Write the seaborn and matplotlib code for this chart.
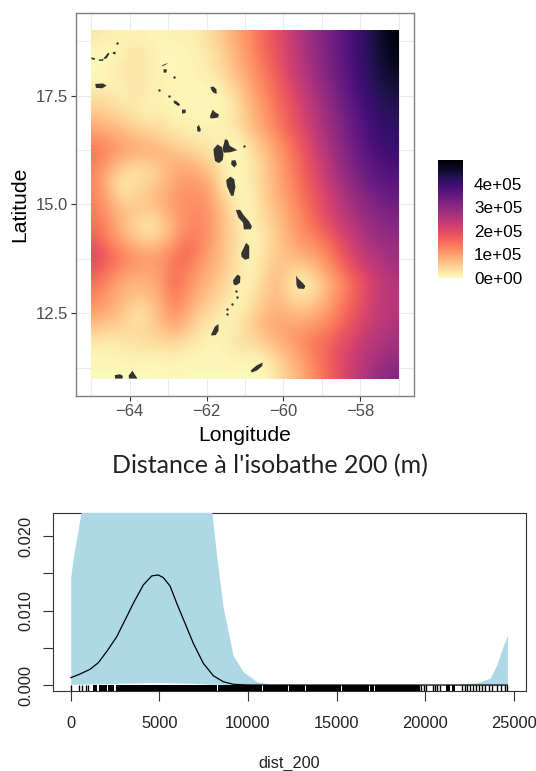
# -*- coding: utf-8 -*-
"""
Carte de distance à l'isobathe 200 et effet lissé de dist_200.
"""
import numpy as np
import matplotlib.pyplot as plt
import seaborn as sns

# --- carte : distance (km) par maille de 1/3 de degré, du nord au sud ---
lon_min, lon_max = -65, -57
lat_min, lat_max = 11, 19
d_18_83 = [25, 15, 15, 15, 10, 10, 15, 15, 20, 40, 65, 95, 125, 160, 190, 225, 260, 295, 325, 355, 390, 420, 455, 490]
d_18_50 = [5, 5, 15, 25, 20, 10, 5, 10, 15, 30, 55, 85, 120, 155, 185, 220, 255, 290, 325, 355, 390, 420, 450, 480]
d_18_17 = [5, 15, 25, 30, 20, 5, 5, 10, 15, 25, 50, 80, 110, 145, 180, 215, 250, 285, 320, 350, 385, 415, 445, 470]
d_17_83 = [10, 10, 20, 25, 20, 15, 10, 10, 10, 15, 35, 65, 100, 130, 165, 205, 240, 275, 310, 345, 380, 410, 435, 455]
d_17_50 = [30, 25, 15, 25, 15, 10, 10, 10, 10, 8, 15, 45, 85, 120, 155, 190, 225, 265, 300, 335, 370, 400, 425, 440]
d_17_17 = [50, 45, 30, 20, 15, 15, 8, 8, 10, 8, 10, 35, 75, 110, 145, 180, 215, 250, 290, 325, 360, 390, 415, 425]
d_16_83 = [80, 70, 55, 40, 30, 30, 15, 15, 10, 10, 15, 35, 70, 100, 135, 170, 205, 240, 280, 315, 350, 380, 405, 415]
d_16_50 = [115, 105, 90, 75, 65, 50, 35, 25, 20, 20, 15, 10, 45, 80, 115, 150, 190, 230, 270, 305, 345, 375, 395, 405]
d_16_17 = [145, 115, 95, 85, 80, 80, 70, 55, 40, 25, 5, 5, 25, 60, 95, 135, 175, 215, 255, 295, 330, 360, 385, 395]
d_15_83 = [125, 80, 50, 30, 40, 60, 85, 90, 75, 50, 15, 10, 20, 50, 90, 125, 165, 205, 245, 285, 320, 350, 370, 380]
d_15_50 = [120, 60, 20, 35, 45, 65, 95, 105, 100, 75, 10, 5, 20, 50, 85, 120, 155, 190, 230, 270, 305, 335, 355, 365]
d_15_17 = [125, 80, 35, 45, 65, 80, 105, 115, 115, 90, 35, 15, 15, 45, 80, 110, 145, 180, 215, 250, 285, 310, 330, 345]
d_14_83 = [135, 100, 70, 60, 50, 70, 100, 120, 125, 100, 55, 15, 10, 40, 70, 100, 135, 170, 205, 240, 270, 295, 315, 325]
d_14_50 = [150, 110, 70, 40, 20, 40, 85, 120, 130, 100, 60, 25, 10, 30, 60, 90, 125, 150, 185, 220, 250, 275, 295, 305]
d_14_17 = [170, 125, 95, 65, 50, 65, 105, 145, 130, 95, 60, 30, 5, 25, 55, 85, 110, 125, 155, 195, 230, 260, 280, 290]
d_13_83 = [200, 160, 130, 110, 100, 110, 135, 160, 120, 90, 55, 25, 10, 30, 55, 70, 85, 100, 130, 170, 210, 240, 260, 275]
d_13_50 = [175, 140, 115, 100, 95, 105, 150, 130, 100, 80, 50, 25, 10, 35, 70, 50, 45, 65, 105, 145, 185, 220, 245, 265]
d_13_17 = [145, 110, 85, 75, 80, 100, 155, 120, 90, 65, 40, 15, 15, 45, 75, 30, 5, 35, 75, 115, 160, 195, 230, 255]
d_12_83 = [120, 95, 75, 55, 65, 90, 135, 105, 70, 50, 25, 10, 25, 55, 70, 50, 35, 55, 90, 130, 165, 205, 235, 250]
d_12_50 = [95, 80, 60, 25, 40, 80, 115, 85, 50, 30, 15, 15, 40, 70, 85, 75, 70, 85, 110, 145, 180, 210, 235, 250]
d_12_17 = [60, 45, 45, 30, 45, 65, 85, 60, 30, 15, 10, 25, 50, 75, 95, 100, 105, 115, 135, 165, 195, 225, 245, 260]
d_11_83 = [20, 15, 25, 30, 35, 35, 40, 30, 15, 10, 15, 30, 35, 50, 75, 95, 120, 145, 160, 190, 215, 240, 255, 270]
d_11_50 = [10, 10, 15, 15, 10, 15, 15, 10, 10, 10, 10, 15, 10, 20, 45, 75, 105, 135, 165, 195, 225, 250, 270, 285]
d_11_17 = [5, 5, 5, 5, 5, 5, 8, 5, 5, 5, 5, 5, 5, 5, 30, 60, 90, 125, 160, 195, 230, 260, 285, 310]

# contours des îles (lon, lat)
iles = [
    ([-65.0, -64.9, -64.92, -65.0], [18.38, 18.36, 18.32, 18.34]),
    ([-64.81, -64.68, -64.7, -64.8], [18.33, 18.34, 18.3, 18.3]),
    ([-64.68, -64.56, -64.53, -64.6, -64.68], [18.36, 18.49, 18.46, 18.36, 18.34]),
    ([-64.44, -64.37, -64.37, -64.44], [18.5, 18.51, 18.45, 18.46]),
    ([-64.9, -64.7, -64.6, -64.72, -64.88], [17.77, 17.78, 17.73, 17.67, 17.68]),
    ([-63.15, -63.0, -62.97, -63.07, -63.16], [18.2, 18.26, 18.28, 18.21, 18.17]),
    ([-63.12, -63.03, -63.05, -63.12], [18.11, 18.1, 18.03, 18.03]),
    ([-62.86, -62.78, -62.69, -62.73, -62.85], [17.39, 17.37, 17.3, 17.26, 17.33]),
    ([-62.64, -62.54, -62.55, -62.64], [17.18, 17.18, 17.1, 17.09]),
    ([-61.9, -61.82, -61.74, -61.74, -61.82, -61.87], [17.7, 17.71, 17.64, 17.54, 17.57, 17.62]),
    ([-61.91, -61.84, -61.78, -61.68, -61.7, -61.82, -61.9], [17.03, 17.18, 17.12, 17.07, 17.0, 16.98, 16.98]),
    ([-62.25, -62.2, -62.15, -62.17, -62.24], [16.78, 16.83, 16.72, 16.67, 16.68]),
    ([-61.82, -61.72, -61.6, -61.56, -61.58, -61.68, -61.78, -61.81], [16.27, 16.38, 16.32, 16.15, 16.02, 15.95, 16.0, 16.15]),
    ([-61.58, -61.52, -61.45, -61.4, -61.2, -61.38, -61.55, -61.58], [16.3, 16.5, 16.48, 16.35, 16.25, 16.2, 16.19, 16.25]),
    ([-61.35, -61.25, -61.21, -61.28, -61.36], [16.01, 16.02, 15.92, 15.85, 15.92]),
    ([-61.49, -61.38, -61.28, -61.25, -61.3, -61.36, -61.47], [15.56, 15.64, 15.58, 15.4, 15.2, 15.2, 15.42]),
    ([-61.24, -61.13, -61.03, -60.9, -60.82, -60.85, -61.03, -61.05, -61.17], [14.87, 14.88, 14.75, 14.62, 14.5, 14.43, 14.43, 14.58, 14.7]),
    ([-61.1, -60.97, -60.89, -60.89, -61.0, -61.09], [13.88, 14.12, 14.05, 13.76, 13.73, 13.8]),
    ([-61.31, -61.2, -61.12, -61.13, -61.24, -61.3], [13.26, 13.39, 13.35, 13.2, 13.14, 13.17]),
    ([-61.88, -61.78, -61.69, -61.69, -61.76, -61.88], [12.02, 12.2, 12.25, 12.1, 12.0, 11.99]),
    ([-60.85, -60.7, -60.54, -60.55, -60.68, -60.82], [11.19, 11.3, 11.37, 11.29, 11.19, 11.14]),
    ([-59.67, -59.62, -59.5, -59.43, -59.46, -59.62, -59.66], [13.37, 13.3, 13.2, 13.13, 13.06, 13.07, 13.15]),
    ([-64.39, -64.25, -64.18, -64.19, -64.38], [11.08, 11.1, 11.06, 11.0, 11.0]),
    ([-64.03, -63.93, -63.8, -63.87, -64.02], [11.07, 11.18, 11.0, 11.0, 11.0]),
]
ilots_lon = [-64.32, -63.25, -62.99, -62.84, -61.03, -61.24, -61.2, -61.35, -61.46, -61.48]
ilots_lat = [18.72, 17.64, 17.5, 17.92, 16.34, 13.01, 12.87, 12.72, 12.6, 12.49]

x_ticks_carte = [-64, -62, -60, -58]
x_minor_carte = [-65, -63, -61, -59, -57]
y_ticks_carte = [12.5, 15, 17.5]
y_minor_carte = [11.25, 13.75, 16.25, 18.75]
legende_ticks = [0, 100000, 200000, 300000, 400000]
legende_labels = ["0e+00", "1e+05", "2e+05", "3e+05", "4e+05"]
titre_bas = "Distance à l'isobathe 200 (m)"

# --- effet lissé ---
courbe_x = [0, 525, 1089, 1558, 2065, 2596, 3160, 3533, 4097, 4571, 4943, 5226, 5604, 5982, 6450,
            6918, 7482, 8047, 8612, 9176, 9933, 11060, 24640]
courbe_y = [0.00098, 0.00148, 0.00211, 0.0030, 0.00461, 0.00649, 0.00918, 0.01098, 0.01344, 0.01465,
            0.01478, 0.01442, 0.0133, 0.01098, 0.00829, 0.0056, 0.00292, 0.00125, 0.00044, 0.0001,
            0.00001, 0.0, 0.0]
bande_x = [0, 186, 581, 1500, 3000, 5000, 7000, 7970, 8240, 8600, 9160, 9730, 10500, 11250, 13100,
           13200, 21300, 21400, 22910, 23660, 24040, 24400, 24640]
bande_haut = [0.01456, 0.0177, 0.0231, 0.032, 0.045, 0.055, 0.035, 0.0231, 0.01725, 0.0105, 0.004,
              0.0018, 0.00045, 0.00013, 0.0001, 0.0, 0.0, 0.00003, 0.0003, 0.0009, 0.0027, 0.0052, 0.0067]
bande_bas = [0.0001, 0.0001, 0.00012, 0.00015, 0.00025, 0.00036, 0.0002, 0.0001, 0.0001, 0.0001, 0.0,
             0.0, 0.0, 0.0, 0.0, 0.0, 0.0, 0.0, 0.0, 0.0, 0.0, 0.0, 0.0]

# rug : traits isolés et blocs pleins
rug_traits = [0, 451, 620, 863, 976, 19674, 19787, 19919, 20050, 20426, 20558, 20671, 20840, 22082,
              22232, 22383, 22514, 22702, 22890, 23060, 23229, 23398, 23587, 23793, 24057, 24283,
              24489, 24621]
rug_debut = [1277, 1597, 2124, 2540, 8296, 10870, 12320, 13300, 15330, 16890, 17170, 21179, 21498]
rug_fin = [1503, 2067, 2460, 8240, 10780, 12240, 13220, 15250, 16810, 17090, 19655, 21404, 21687]
x_ticks_bas = [0, 5000, 10000, 15000, 20000, 25000]
y_ticks_bas = [0.0, 0.005, 0.010, 0.015, 0.020]
y_labels_bas = ["0.000", "", "0.010", "", "0.020"]

sns.set_theme(style="white")
plt.rcParams["font.family"] = ["Liberation Sans", "DejaVu Sans"]

W, H = 536, 771
fig = plt.figure(figsize=(W / 100, H / 100), dpi=100)
cmap = sns.color_palette("magma_r", as_cmap=True)

# --- carte ---
ax = fig.add_axes([76 / W, 1 - 396 / H, 338 / W, 383 / H])
grille = np.array([d_18_83, d_18_50, d_18_17, d_17_83, d_17_50, d_17_17, d_16_83, d_16_50, d_16_17, d_15_83,
                   d_15_50, d_15_17, d_14_83, d_14_50, d_14_17, d_13_83, d_13_50, d_13_17, d_12_83, d_12_50,
                   d_12_17, d_11_83, d_11_50, d_11_17]) * 1000
im = ax.imshow(grille, extent=[lon_min, lon_max, lat_min, lat_max], cmap=cmap, vmin=0, vmax=500000,
               interpolation="bicubic", aspect="auto", zorder=2)
for lons, lats in iles:
    ax.fill(lons, lats, color="#333333", lw=0, zorder=3)
sns.scatterplot(x=ilots_lon, y=ilots_lat, ax=ax, color="#333333", s=3, linewidth=0, zorder=3)
ax.set_xlim(-65.4, -56.6)
ax.set_ylim(10.6, 19.4)
ax.set_xticks(x_ticks_carte)
ax.set_yticks(y_ticks_carte)
ax.set_xticks(x_minor_carte, minor=True)
ax.set_yticks(y_minor_carte, minor=True)
ax.set_yticklabels(["12.5", "15.0", "17.5"])
ax.grid(True, which="both", color="#EBEBEB", lw=0.8, zorder=1)
ax.set_axisbelow(True)
ax.tick_params(which="major", length=3.5, width=0.8, color="#333333", labelcolor="#4D4D4D", labelsize=12, pad=2.5,
               bottom=True, left=True)
ax.tick_params(which="minor", length=0)
ax.set_xlabel("Longitude", fontsize=15.2, color="black", labelpad=4.5)
ax.set_ylabel("Latitude", fontsize=15.2, color="black", labelpad=4.5)
for s in ax.spines.values():
    s.set_color("#7F7F7F")
    s.set_linewidth(1.0)

# légende
cax = fig.add_axes([438 / W, 1 - 278 / H, 25 / W, 118 / H])
cb = fig.colorbar(im, cax=cax)
cb.set_ticks(legende_ticks, labels=legende_labels)
cb.outline.set_visible(False)
cax.tick_params(length=4.5, width=0.7, color="white", direction="in", left=True, right=True, labelsize=12.3,
                labelcolor="black", pad=8)

fig.text(269.5 / W, 1 - 466 / H, titre_bas, family=["Lato", "DejaVu Sans"], fontsize=18, color="#222222",
         ha="center", va="center")

# --- effet lissé ---
ax2 = fig.add_axes([53 / W, 1 - 691 / H, 473 / W, 178 / H])
ax2.fill_between(bande_x, bande_bas, bande_haut, color="#ADD8E6", lw=0, zorder=3)
sns.lineplot(x=courbe_x, y=courbe_y, ax=ax2, color="black", lw=0.9, zorder=4, estimator=None, sort=False)
sns.rugplot(x=rug_traits, ax=ax2, height=0.032, color="black", lw=1.0, zorder=4)
ax2.broken_barh([(d, f - d) for d, f in zip(rug_debut, rug_fin)], (-0.0008, 0.00077), color="black", lw=0, zorder=4)
ax2.set_xlim(-1000, 25690)
ax2.set_ylim(-0.0008, 0.0231)
ax2.set_xticks(x_ticks_bas)
ax2.set_yticks(y_ticks_bas)
ax2.set_yticklabels(y_labels_bas, rotation=90, va="center")
ax2.tick_params(length=7.2, width=0.8, color="#333333", labelcolor="#222222", labelsize=11.8, bottom=True, left=True)
ax2.tick_params(axis="x", pad=11)
ax2.tick_params(axis="y", pad=7)
ax2.set_xlabel("dist_200", fontsize=11.7, color="#222222", labelpad=18)
for s in ax2.spines.values():
    s.set_color("#333333")
    s.set_linewidth(0.8)

fig.savefig("out.png", dpi=100)
